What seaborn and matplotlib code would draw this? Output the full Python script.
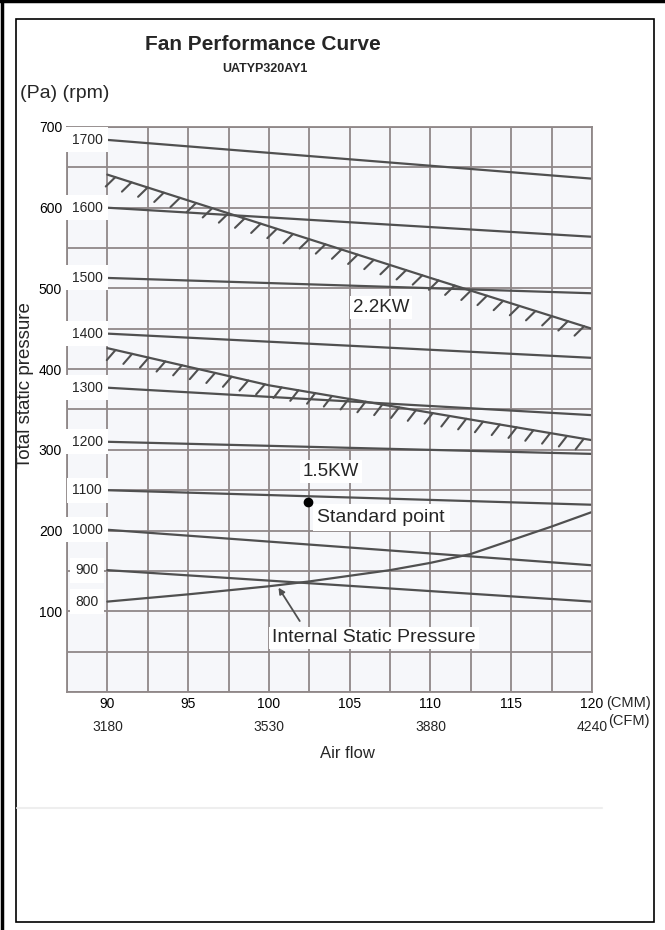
import numpy as np
import pandas as pd
import matplotlib
matplotlib.use("Agg")
import matplotlib.pyplot as plt
import matplotlib.patheffects as pe
from matplotlib.ticker import MultipleLocator
from matplotlib.lines import Line2D
from matplotlib.patches import Rectangle
import seaborn as sns

# air flow axis (CMM ticks, CFM equivalents)
cmm_ticks = [90, 95, 100, 105, 110, 115, 120]
cfm_pos = [90, 100, 110, 120]
cfm_labels = ["3180", "3530", "3880", "4240"]
pa_ticks = [100, 200, 300, 400, 500, 600, 700]

# fan speed lines: static pressure read at 90 and 120 CMM
rpm = [1700, 1600, 1500, 1400, 1300, 1200, 1100, 1000, 900]
pa_at_90 = [684, 600, 513, 444, 377, 310, 250, 201, 151]
pa_at_120 = [636, 564, 494, 414, 343, 295, 232, 157, 112]

# motor limit lines (hatched)
kw22_cmm = [90, 100, 110, 120]
kw22_pa = [641, 577, 513, 450]
kw15_cmm = [90, 100, 110, 120]
kw15_pa = [426, 380, 346, 312]

# internal static pressure curve (starts at the 800 rpm mark)
isp_rpm = 800
isp_cmm = [90, 95, 100, 102.5, 105, 107.5, 110, 112.5, 115, 117.5, 120]
isp_pa = [112, 121, 131, 137, 144, 151, 160, 171, 188, 205, 223]

std_cmm, std_pa = 102.4, 236

LINE_C = "#505050"
GRID_C = "#908888"
FONT = ["Liberation Sans", "DejaVu Sans"]

sns.set_theme(style="white")
plt.rcParams["font.family"] = FONT

fig = plt.figure(figsize=(6.65, 9.3), dpi=100)
W, H = 665, 930
ax = fig.add_axes([67 / W, 1 - 692 / H, (592 - 67) / W, (692 - 127) / H])
ax.set_facecolor("#f6f7fa")

# rpm lines as long-form table
rows = []
for r, a, b in zip(rpm, pa_at_90, pa_at_120):
    rows.append({"rpm": r, "cmm": 90, "pa": a})
    rows.append({"rpm": r, "cmm": 120, "pa": b})
df = pd.DataFrame(rows)
sns.lineplot(data=df, x="cmm", y="pa", units="rpm", estimator=None,
             color=LINE_C, lw=1.6, ax=ax, zorder=2)

sns.lineplot(x=isp_cmm, y=isp_pa, color=LINE_C, lw=1.6, ax=ax, zorder=2)

hatch = [pe.withTickedStroke(angle=-118, spacing=12, length=0.8, linewidth=1.5)]
for xs, ys in [(kw22_cmm, kw22_pa), (kw15_cmm, kw15_pa)]:
    ax.plot(xs, ys, color=LINE_C, lw=1.6, zorder=2, path_effects=hatch)

ax.plot([std_cmm], [std_pa], "o", color="black", ms=6, zorder=5)

# axes and grid
ax.set_xlim(87.5, 120)
ax.set_ylim(0, 700)
ax.set_xticks(cmm_ticks)
ax.set_xticklabels([str(v) for v in cmm_ticks])
ax.set_yticks(pa_ticks)
ax.set_yticklabels([str(v) for v in pa_ticks])
ax.xaxis.set_minor_locator(MultipleLocator(2.5))
ax.yaxis.set_minor_locator(MultipleLocator(50))
ax.grid(True, which="both", color=GRID_C, lw=1.3)
ax.set_axisbelow(True)
ax.tick_params(axis="both", which="both", length=0, labelsize=10, colors="black")
ax.tick_params(axis="y", pad=3.5)
ax.tick_params(axis="x", pad=3.8)
for s in ax.spines.values():
    s.set_color(GRID_C)
    s.set_linewidth(1.3)
ax.set_xlabel("")
ax.set_ylabel("")

# rpm labels on white boxes at the left edge
for r, y in zip(rpm + [isp_rpm], pa_at_90 + [isp_pa[0]]):
    ax.text(88.75, y, str(r), ha="center", va="center", fontsize=10, zorder=4,
            bbox=dict(boxstyle="square,pad=0.4", fc="white", ec="none"))

# CFM row
for x, lab in zip(cfm_pos, cfm_labels):
    ax.text(x, -0.062, lab, transform=ax.get_xaxis_transform(), ha="center",
            va="center", fontsize=10)

white = dict(boxstyle="square,pad=0.15", fc="white", ec="none")
ax.text(105.2, 476, "2.2KW", fontsize=13.5, ha="left", va="center", bbox=white, zorder=4)
ax.text(102.1, 273, "1.5KW", fontsize=13.5, ha="left", va="center", bbox=white, zorder=4)
ax.text(103.0, 216, "Standard point", fontsize=14, ha="left", va="center",
        bbox=dict(boxstyle="square,pad=0.25", fc="white", ec="none"), zorder=4)
ax.text(100.2, 67, "Internal Static Pressure", fontsize=14, ha="left", va="center",
        bbox=white, zorder=4)
tip_x = 100.5
ax.annotate("", xy=(tip_x, np.interp(tip_x, isp_cmm, isp_pa)), xytext=(102.0, 85),
            arrowprops=dict(arrowstyle="-|>", color=LINE_C, lw=1.3, mutation_scale=9),
            zorder=4)

# figure texts
fig.text(263 / W, 1 - 45 / H, "Fan Performance Curve", ha="center", va="center",
         fontsize=15, fontweight="bold")
fig.text(265 / W, 1 - 69 / H, "UATYP320AY1", ha="center", va="center",
         fontsize=9, fontweight="bold")
fig.text(20 / W, 1 - 93 / H, "(Pa) (rpm)", ha="left", va="center", fontsize=14)
fig.text(26 / W, 1 - 385 / H, "Total static pressure", ha="center", va="center",
         fontsize=13.5, rotation=90)
fig.text(347 / W, 1 - 753 / H, "Air flow", ha="center", va="center", fontsize=12)
fig.text(606 / W, 1 - 703 / H, "(CMM)", ha="left", va="center", fontsize=10.5)
fig.text(608 / W, 1 - 721 / H, "(CFM)", ha="left", va="center", fontsize=10.5)

# frame lines
fig.add_artist(Line2D([17 / W, 602 / W], [1 - 808 / H, 1 - 808 / H], color="#eeeeee", lw=1.5))
fig.add_artist(Rectangle((16 / W, 1 - 922 / H), (654 - 16) / W, (922 - 19) / H,
                         fill=False, ec="black", lw=1.2))
fig.add_artist(Line2D([1.5 / W, 1.5 / W], [0, 1], color="black", lw=2.5))
fig.add_artist(Line2D([0, 1], [1 - 1.5 / H, 1 - 1.5 / H], color="black", lw=2.5))

fig.savefig("out.png", dpi=100)
